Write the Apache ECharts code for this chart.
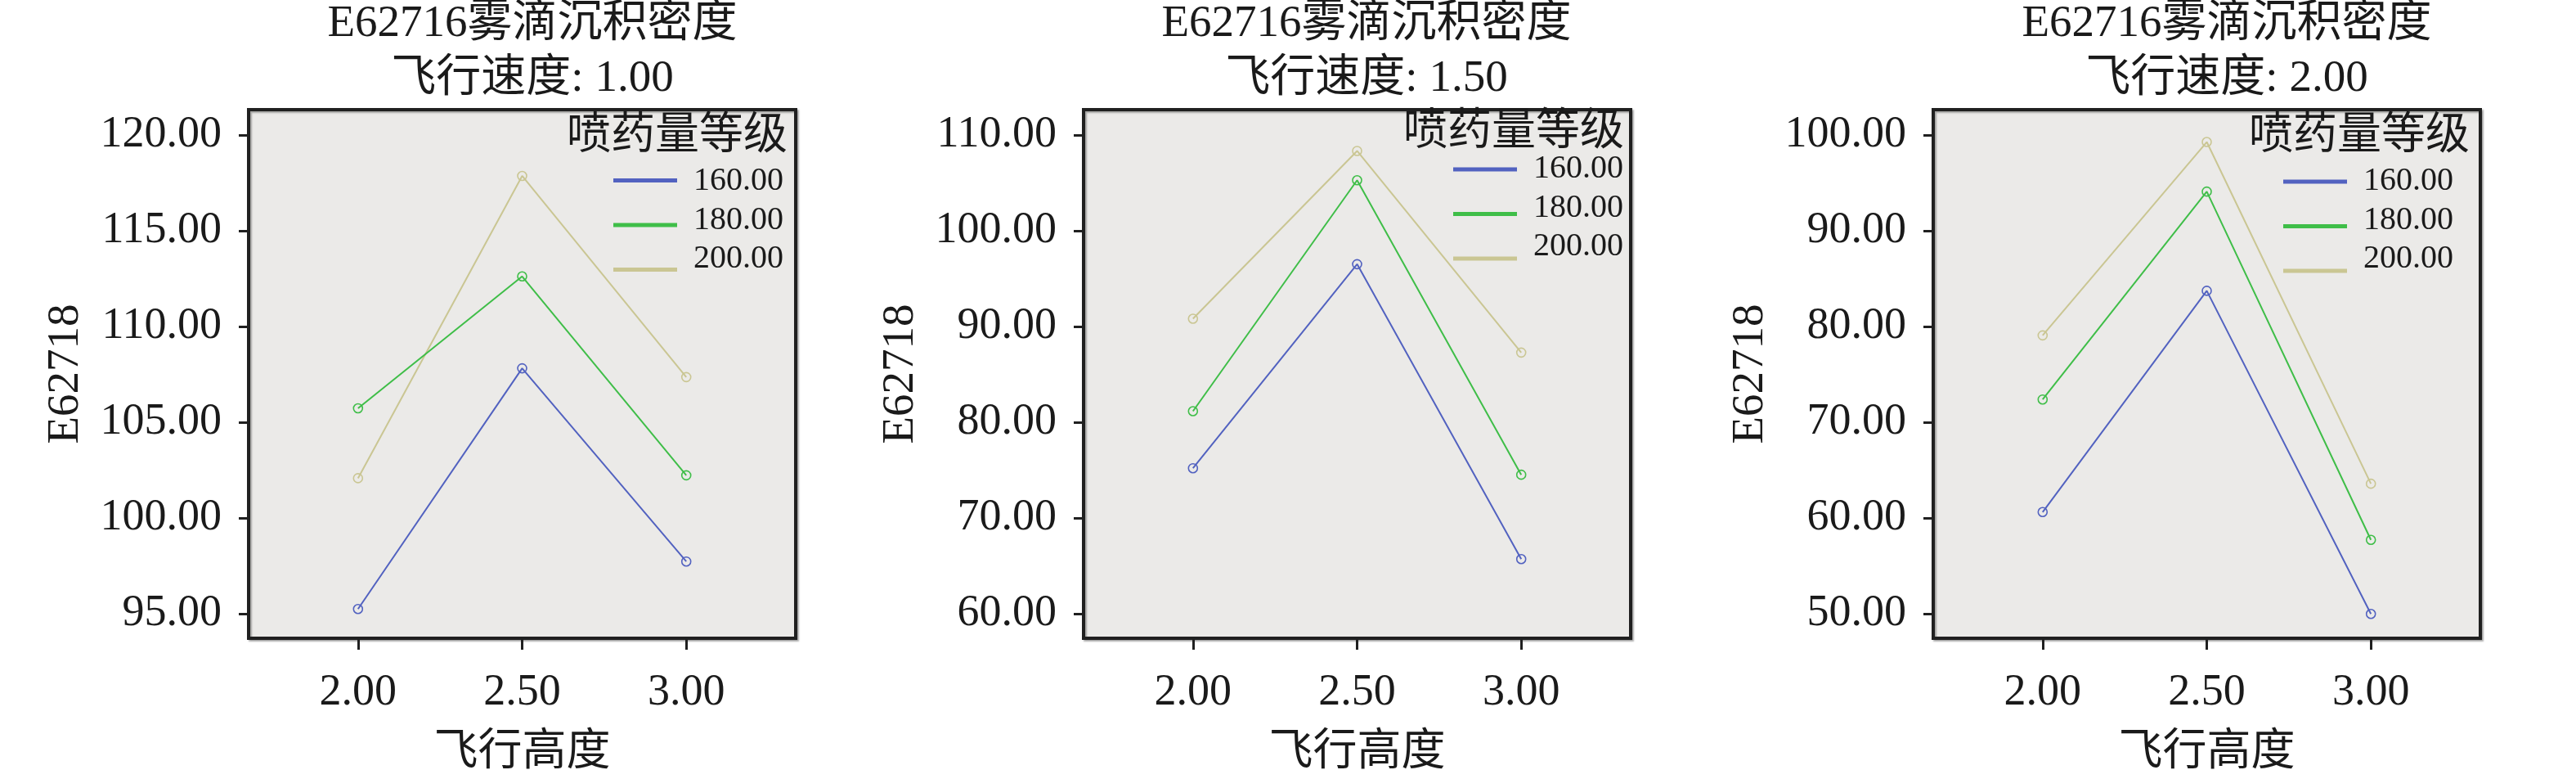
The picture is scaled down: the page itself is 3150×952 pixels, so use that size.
<!DOCTYPE html>
<html>
<head>
<meta charset="utf-8">
<script src="https://cdn.jsdelivr.net/npm/echarts@6/dist/echarts.min.js"></script>
<style>
html,body{margin:0;padding:0;background:#ffffff;}
#chart{width:3150px;height:952px;}
</style>
</head>
<body>
<div id="chart"></div>
<script>
// ---------------- data ----------------
const heights = [2.00, 2.50, 3.00];          // 飞行高度 (x)
const heightTicks = [2.00, 2.50, 3.00];
const doses = ['160.00', '180.00', '200.00']; // 喷药量等级
const speeds = ['1.00', '1.50', '2.00'];      // 飞行速度

// 飞行速度 1.00
const s100_d160 = [95.25, 107.82, 97.73];
const s100_d180 = [105.73, 112.62, 102.23];
const s100_d200 = [102.08, 117.87, 107.36];
// 飞行速度 1.50
const s150_d160 = [75.20, 96.51, 65.71];
const s150_d180 = [81.16, 105.28, 74.52];
const s150_d200 = [90.81, 108.34, 87.28];
// 飞行速度 2.00
const s200_d160 = [60.62, 83.73, 49.98];
const s200_d180 = [72.38, 94.09, 57.72];
const s200_d200 = [79.07, 99.27, 63.58];

const yTicks100 = [95, 100, 105, 110, 115, 120];
const yTicks150 = [60, 70, 80, 90, 100, 110];
const yTicks200 = [50, 60, 70, 80, 90, 100];
const yRange100 = [93.72, 121.33];
const yRange150 = [57.44, 112.65];
const yRange200 = [47.44, 102.65];
const xRange = [5 / 3, 10 / 3];

const titleLine1 = 'E62716雾滴沉积密度';
const titlePrefix = '飞行速度: ';
const legendTitle = '喷药量等级';
const xName = '飞行高度';
const yName = 'E62718';

// ---------------- layout / style ----------------
const panelValues = [
  [s100_d160, s100_d180, s100_d200],
  [s150_d160, s150_d180, s150_d200],
  [s200_d160, s200_d180, s200_d200]
];
const panelTicks = [yTicks100, yTicks150, yTicks200];
const panelRanges = [yRange100, yRange150, yRange200];

const FONT = '"Liberation Serif", "Noto Sans CJK SC", serif';
const TXT = '#1a1a1a';
const colors = ['#5262c0', '#3fbe48', '#cac693'];

const gridLeft = [304, 1325, 2364];
const gridTop = 134, gridW = 669, gridH = 646;
const titleCenter = [651, 1671, 2723];
const legendLeft = [750, 1777, 2792];
const legendIconTop = [218, 204.5, 219.5];
const legendTextTop = [201.7, 186.6, 201.7];
const legendTitleRight = [963, 1986, 3020];
const legendTitleTop = [141, 136, 141];

const grids = [], xAxes = [], yAxes = [], series = [], titles = [], legends = [];

for (let p = 0; p < 3; p++) {
  grids.push({
    left: gridLeft[p], top: gridTop, width: gridW, height: gridH,
    show: true, backgroundColor: '#ebeae8',
    borderColor: '#202020', borderWidth: 4,
    shadowColor: 'rgba(0,0,0,0.3)', shadowOffsetX: 2, shadowOffsetY: 2, shadowBlur: 2,
    containLabel: false, outerBoundsMode: 'none'
  });
  xAxes.push({
    type: 'value', gridIndex: p, min: xRange[0], max: xRange[1],
    name: xName, nameLocation: 'middle', nameGap: 114,
    nameTextStyle: {fontFamily: FONT, fontSize: 54, color: TXT},
    axisLine: {show: false},
    axisTick: {show: true, inside: false, length: 14, customValues: heightTicks,
      lineStyle: {color: '#202020', width: 3}},
    axisLabel: {show: true, margin: 40, customValues: heightTicks,
      fontFamily: FONT, fontSize: 54, color: TXT,
      formatter: v => Number(v).toFixed(2)},
    splitLine: {show: false}
  });
  yAxes.push({
    type: 'value', gridIndex: p, min: panelRanges[p][0], max: panelRanges[p][1],
    name: yName, nameLocation: 'middle', nameGap: 196, nameRotate: 90,
    nameTextStyle: {fontFamily: FONT, fontSize: 55, color: TXT},
    axisLine: {show: false},
    axisTick: {show: true, inside: false, length: 12, customValues: panelTicks[p],
      lineStyle: {color: '#202020', width: 3}},
    axisLabel: {show: true, margin: 33, customValues: panelTicks[p],
      fontFamily: FONT, fontSize: 54, color: TXT,
      formatter: v => Number(v).toFixed(2)},
    splitLine: {show: false}
  });
  for (let d = 0; d < 3; d++) {
    const vals = panelValues[p][d];
    series.push({
      type: 'line', name: doses[d], xAxisIndex: p, yAxisIndex: p,
      data: heights.map((h, i) => [h, vals[i]]),
      color: colors[d],
      symbol: 'circle', symbolSize: 11,
      lineStyle: {color: colors[d], width: 2},
      itemStyle: {color: 'rgba(0,0,0,0)', borderColor: colors[d], borderWidth: 1.6},
      emphasis: {disabled: true},
      z: 2 + (2 - d)
    });
  }
  titles.push({
    text: titleLine1 + '\n' + titlePrefix + speeds[p],
    left: titleCenter[p], top: -4, padding: 0,
    textAlign: 'center', textVerticalAlign: 'top',
    textStyle: {fontFamily: FONT, fontSize: 55, lineHeight: 67, fontWeight: 'normal', color: TXT}
  });
  titles.push({
    text: legendTitle,
    left: legendTitleRight[p], top: legendTitleTop[p], padding: 0,
    textAlign: 'right', textVerticalAlign: 'top',
    textStyle: {fontFamily: FONT, fontSize: 54, lineHeight: 54, fontWeight: 'normal', color: TXT}
  });
  // legend line swatches
  legends.push({
    orient: 'vertical', left: legendLeft[p], top: legendIconTop[p], padding: 0,
    icon: 'rect', itemWidth: 78, itemHeight: 5, itemGap: 49.5,
    selectedMode: false,
    formatter: () => '',
    textStyle: {fontSize: 5, lineHeight: 5},
    data: doses.map((name, i) => ({name: name, itemStyle: {color: colors[i], borderWidth: 0}}))
  });
  // legend labels
  legends.push({
    orient: 'vertical', left: legendLeft[p], top: legendTextTop[p], padding: 0,
    icon: 'rect', itemWidth: 93, itemHeight: 5, itemGap: 7.5,
    selectedMode: false,
    textStyle: {fontFamily: FONT, fontSize: 40, lineHeight: 40, color: TXT},
    data: doses.map((name, i) => ({name: name, itemStyle: {color: colors[i], opacity: 0, borderWidth: 0}}))
  });
}

const chart = echarts.init(document.getElementById('chart'), null, {renderer: 'canvas'});
chart.setOption({
  animation: false,
  backgroundColor: '#ffffff',
  title: titles,
  legend: legends,
  grid: grids,
  xAxis: xAxes,
  yAxis: yAxes,
  series: series
});
</script>
</body>
</html>
